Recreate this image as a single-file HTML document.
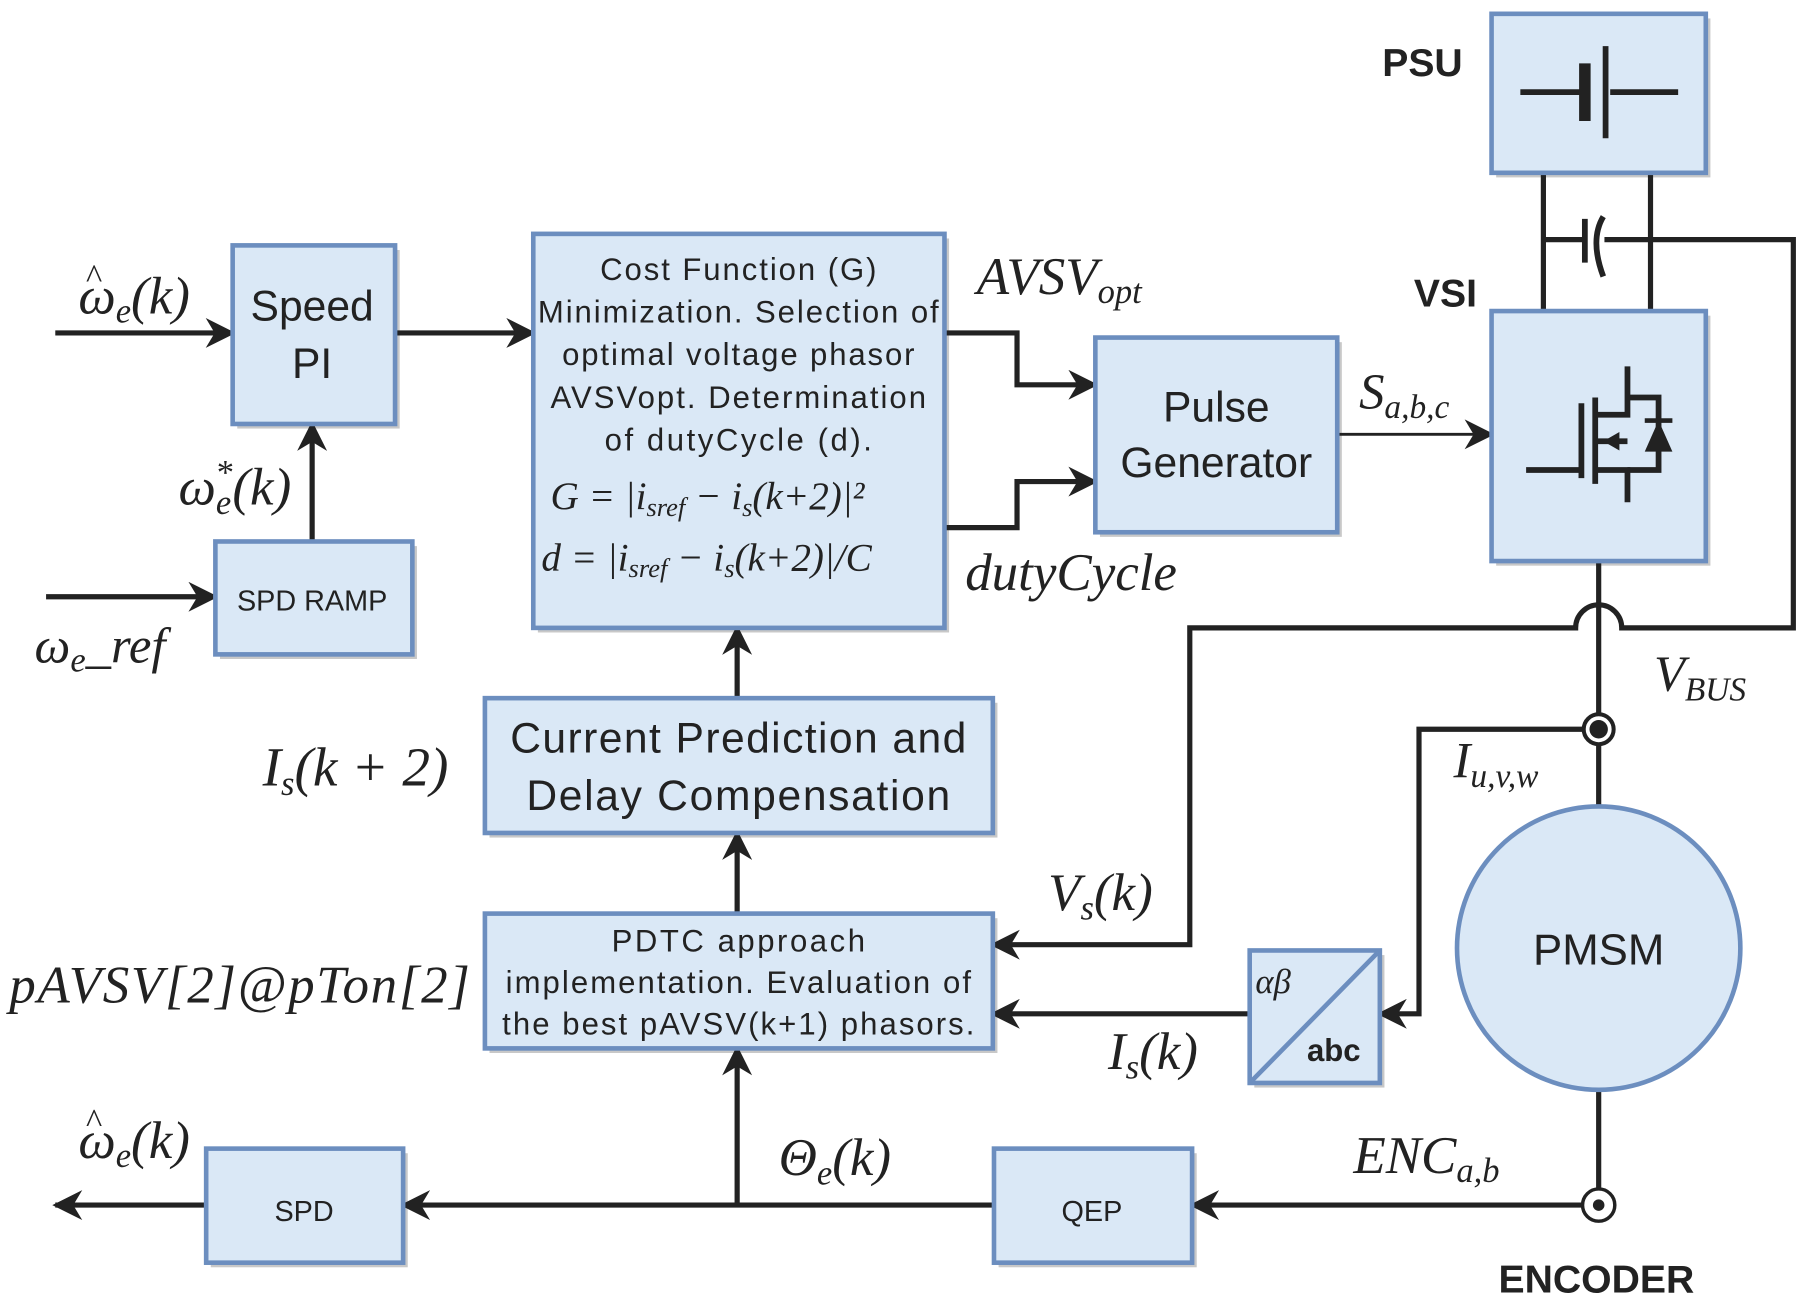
<!DOCTYPE html>
<html><head><meta charset="utf-8"><style>
html,body{margin:0;padding:0;background:#fff;}
svg{display:block}
.b{fill:#dae8f6;stroke:#6c8ebf;stroke-width:4}
.s{fill:#c8c8c8}
.l{stroke:#222;stroke-width:4.5;fill:none}
.t{font-family:"Liberation Sans",sans-serif;fill:#222}
.m{font-family:"Liberation Serif",serif;font-style:italic;fill:#222}
</style></head><body>
<svg width="1806" height="1303" viewBox="0 0 1568 1131" preserveAspectRatio="none" xmlns="http://www.w3.org/2000/svg">
<defs>
<marker id="A" viewBox="0 0 10 10" refX="9" refY="5" markerWidth="30" markerHeight="26" orient="auto" markerUnits="userSpaceOnUse"><path d="M0,0 L10,5 L0,10 L3,5z" fill="#222"/></marker></defs>
<g class="s">
<rect x="206" y="217" width="141" height="155"/><rect x="467" y="207" width="357" height="342"/>
<rect x="955" y="297" width="210" height="169"/><rect x="191" y="474" width="171" height="98"/>
<rect x="425" y="610" width="441" height="117"/><rect x="425" y="797" width="441" height="117"/>
<rect x="1089" y="829" width="113" height="115"/><rect x="867" y="1001" width="172" height="99"/>
<rect x="183" y="1001" width="171" height="99"/><rect x="1299" y="16" width="186" height="138"/>
<rect x="1299" y="274" width="186" height="217"/>
</g>
<g class="l">
<path d="M48,289 H202" marker-end="url(#A)"/>
<path d="M343,289 H463" marker-end="url(#A)"/>
<path d="M271,470 V368" marker-end="url(#A)"/>
<path d="M40,518 H187" marker-end="url(#A)"/>
<path d="M820,289 H883 V334 H951" marker-end="url(#A)"/>
<path d="M820,458 H883 V418 H951" marker-end="url(#A)"/>
<path d="M1161,377 H1295" style="stroke-width:2.5" marker-end="url(#A)"/>
<path d="M1340,150 V270 M1433,150 V270"/>
<path d="M1340,208 H1376 M1393,208 H1433 M1433,208 H1557 V545 H1408 A20,20 0 0 0 1368,545 H1033 V820 H862" marker-end="url(#A)"/>
<path d="M1388,487 V1040"/>
<path d="M1388,633 H1232 V880 H1198" marker-end="url(#A)"/>
<path d="M1085,880 H862" marker-end="url(#A)"/>
<path d="M1382,1046 H1035" marker-end="url(#A)"/>
<path d="M863,1046 H350" marker-end="url(#A)"/>
<path d="M179,1046 H48" marker-end="url(#A)"/>
<path d="M640,1046 V910" marker-end="url(#A)"/>
<path d="M640,793 V723" marker-end="url(#A)"/>
<path d="M640,606 V545" marker-end="url(#A)"/>
</g>
<path d="M1376,190 V228" stroke="#222" stroke-width="5"/>
<path d="M1392,188 Q1380,208 1392,240" stroke="#222" stroke-width="5" fill="none"/>
<rect class="b" x="202" y="213" width="141" height="155"/>
<rect class="b" x="463" y="203" width="357" height="342"/>
<rect class="b" x="951" y="293" width="210" height="169"/>
<rect class="b" x="187" y="470" width="171" height="98"/>
<rect class="b" x="421" y="606" width="441" height="117"/>
<rect class="b" x="421" y="793" width="441" height="117"/>
<rect class="b" x="1085" y="825" width="113" height="115"/>
<path d="M1087,938 L1196,827" stroke="#6c8ebf" stroke-width="4"/>
<rect class="b" x="863" y="997" width="172" height="99"/>
<rect class="b" x="179" y="997" width="171" height="99"/>
<rect class="b" x="1295" y="12" width="186" height="138"/>
<rect class="b" x="1295" y="270" width="186" height="217"/>
<circle class="b" cx="1388" cy="823" r="123"/>
<path d="M1320,80 H1372 M1398,80 H1457" stroke="#222" stroke-width="5"/>
<path d="M1376,55 V105" stroke="#222" stroke-width="10"/>
<path d="M1394,40 V120" stroke="#222" stroke-width="5"/>
<g stroke="#222" stroke-width="5" fill="none">
<path d="M1325,408 H1373 V350 M1373,360 V415"/>
<path d="M1385,345 V420"/>
<path d="M1385,360 H1413 V318 M1385,408 H1413 V436 M1385,383 H1413"/>
<path d="M1413,345 H1440 V408 H1413"/>
</g>
<path d="M1392,383 L1406,375 L1406,391z" fill="#222"/>
<path d="M1428,392 L1440,365 L1452,392z" fill="#222"/><path d="M1428,365 H1452" stroke="#222" stroke-width="4"/>
<circle cx="1388" cy="633" r="13" fill="#fff" stroke="#222" stroke-width="3.5"/><circle cx="1388" cy="633" r="8" fill="#222"/>
<circle cx="1388" cy="1046" r="14" fill="#fff" stroke="#222" stroke-width="3"/><circle cx="1388" cy="1046" r="5" fill="#222"/>
<g class="t" text-anchor="middle">
<text x="271" y="278" font-size="37">Speed</text><text x="271" y="328" font-size="37">PI</text>
<text x="641" y="243" font-size="27" textLength="240">Cost Function (G)</text>
<text x="641" y="280" font-size="27" textLength="348">Minimization. Selection of</text>
<text x="641" y="317" font-size="27" textLength="306">optimal voltage phasor</text>
<text x="641" y="354" font-size="27" textLength="326">AVSVopt. Determination</text>
<text x="641" y="391" font-size="27" textLength="232">of dutyCycle (d).</text>
<text x="1056" y="366" font-size="37">Pulse</text><text x="1056" y="414" font-size="37">Generator</text>
<text x="271" y="530" font-size="25">SPD RAMP</text>
<text x="641" y="653" font-size="37" textLength="396">Current Prediction and</text>
<text x="641" y="703" font-size="37" textLength="368">Delay Compensation</text>
<text x="641" y="826" font-size="27" textLength="220">PDTC approach</text>
<text x="641" y="862" font-size="27" textLength="404">implementation. Evaluation of</text>
<text x="641" y="898" font-size="27" textLength="410">the best pAVSV(k+1) phasors.</text>
<text x="1388" y="837" font-size="38">PMSM</text>
<text x="948" y="1060" font-size="25">QEP</text>
<text x="264" y="1060" font-size="25">SPD</text>
<text x="1235" y="66" font-size="34" font-weight="bold">PSU</text>
<text x="1255" y="266" font-size="34" font-weight="bold">VSI</text>
<text x="1386" y="1122" font-size="34" font-weight="bold">ENCODER</text>
<text x="1158" y="921" font-size="27" font-weight="bold">abc</text>
</g>
<g class="m">
<text x="1090" y="862" font-size="30">αβ</text>
<text x="68" y="272" font-size="46">ω<tspan font-size="30" dy="8">e</tspan><tspan dy="-8">(k)</tspan></text>
<text x="74" y="250" font-size="30">^</text>
<text x="155" y="438" font-size="46">ω<tspan font-size="30" dy="8">e</tspan><tspan font-size="30" dx="-14" dy="-26">*</tspan><tspan dy="18">(k)</tspan></text>
<text x="30" y="575" font-size="44">ω<tspan font-size="30" dy="8">e</tspan><tspan dy="-8">_ref</tspan></text>
<text x="478" y="442" font-size="34">G = |i<tspan font-size="23" dy="6">sref</tspan><tspan dy="-6"> − i</tspan><tspan font-size="23" dy="6">s</tspan><tspan dy="-6">(k+2)|²</tspan></text>
<text x="470" y="495" font-size="34">d = |i<tspan font-size="23" dy="6">sref</tspan><tspan dy="-6"> − i</tspan><tspan font-size="23" dy="6">s</tspan><tspan dy="-6">(k+2)|/C</tspan></text>
<text x="848" y="255" font-size="46">AVSV<tspan font-size="30" dy="8">opt</tspan></text>
<text x="838" y="512" font-size="46">dutyCycle</text>
<text x="1180" y="355" font-size="44">S<tspan font-size="29" dy="8">a,b,c</tspan></text>
<text x="1436" y="600" font-size="44">V<tspan font-size="29" dy="8">BUS</tspan></text>
<text x="1262" y="675" font-size="44">I<tspan font-size="29" dy="8">u,v,w</tspan></text>
<text x="228" y="682" font-size="48">I<tspan font-size="30" dy="8">s</tspan><tspan dy="-8">(k + 2)</tspan></text>
<text x="910" y="790" font-size="46">V<tspan font-size="30" dy="8">s</tspan><tspan dy="-8">(k)</tspan></text>
<text x="8" y="870" font-size="46" textLength="400">pAVSV[2]@pTon[2]</text>
<text x="962" y="928" font-size="46">I<tspan font-size="30" dy="8">s</tspan><tspan dy="-8">(k)</tspan></text>
<text x="676" y="1020" font-size="46">Θ<tspan font-size="30" dy="8">e</tspan><tspan dy="-8">(k)</tspan></text>
<text x="68" y="1005" font-size="46">ω<tspan font-size="30" dy="8">e</tspan><tspan dy="-8">(k)</tspan></text>
<text x="74" y="983" font-size="30">^</text>
<text x="1175" y="1018" font-size="46">ENC<tspan font-size="30" dy="8">a,b</tspan></text>
</g>
</svg>
</body></html>
